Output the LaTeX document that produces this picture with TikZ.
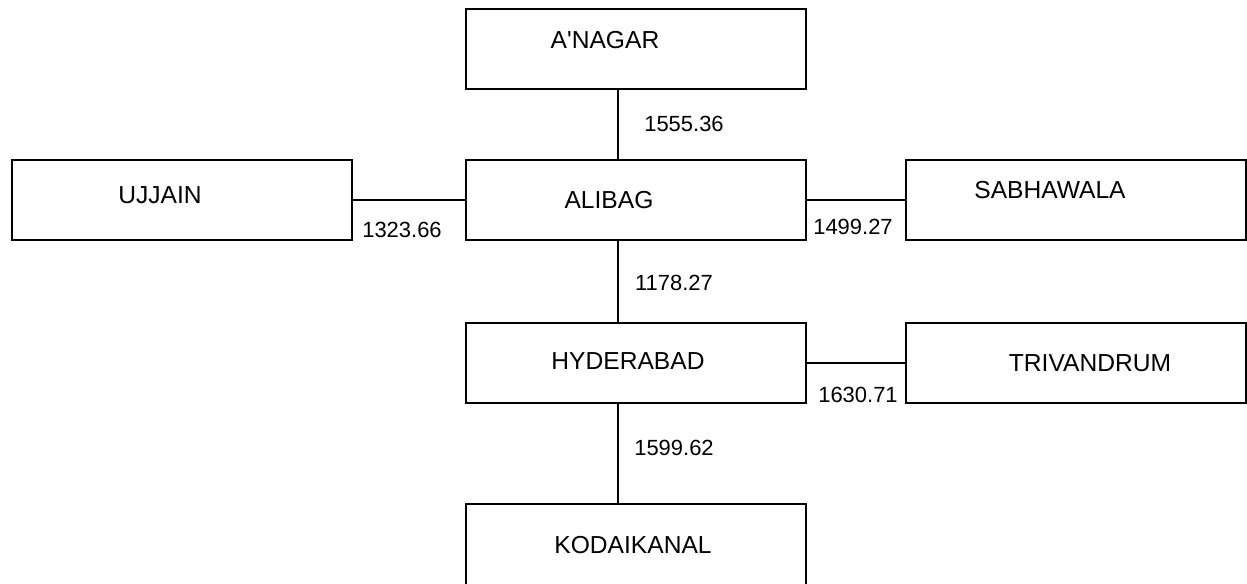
\documentclass[tikz,border=0pt]{standalone}
\usepackage{fontspec}
\setmainfont{Liberation Sans}
\usepackage{tikz}
\usetikzlibrary{positioning, calc}
\tikzset{
    city/.style={draw, rectangle, line width=1pt, minimum width=6.8cm, minimum height=1.6cm, inner sep=0pt},
    cname/.style={inner sep=0pt, font=\fontsize{14}{16}\selectfont},
    dist/.style={inner sep=0pt, font=\fontsize{12.5}{14}\selectfont},
    link/.style={line width=0.8pt}
}

\begin{document}
\begin{tikzpicture}[x=0.02cm, y=-0.02cm]
    \useasboundingbox (0,0) rectangle (1247,584);

    % boxes
    \node[city] (anagar) at (636,49) {};
    \node[city] (alibag) at (636,200) {};
    \node[city] (ujjain) at (182,200) {};
    \node[city] (sabhawala) at (1076,200) {};
    \node[city] (hyderabad) at (636,363) {};
    \node[city] (trivandrum) at (1076,363) {};
    \node[city, minimum height=2cm] (kodaikanal) at (636,554) {};

    % names
    \node[cname] (anagar-t) at (605,40) {A\textquotesingle NAGAR};
    \node[cname] (alibag-t) at (609,200) {ALIBAG};
    \node[cname] (ujjain-t) at (160,195) {UJJAIN};
    \node[cname] (sabhawala-t) at (1050,190) {SABHAWALA};
    \node[cname] (hyderabad-t) at (628,361) {HYDERABAD};
    \node[cname] (trivandrum-t) at (1090,363) {TRIVANDRUM};
    \node[cname] (kodaikanal-t) at (633,545) {KODAIKANAL};

    % connectors
    \coordinate (spine) at (618,0);
    \draw[link] (anagar.south -| spine) -- (alibag.north -| spine);
    \draw[link] (alibag.south -| spine) -- (hyderabad.north -| spine);
    \draw[link] (hyderabad.south -| spine) -- (kodaikanal.north -| spine);
    \draw[link] (ujjain.east) -- (alibag.west);
    \draw[link] (alibag.east) -- (sabhawala.west);
    \draw[link] (hyderabad.east) -- (trivandrum.west);

    % distances
    \node[dist] (d1) at (684,124) {1555.36};
    \node[dist] (d2) at (402,230) {1323.66};
    \node[dist] (d3) at (853,227) {1499.27};
    \node[dist] (d4) at (674,283) {1178.27};
    \node[dist] (d5) at (674,448) {1599.62};
    \node[dist] (d6) at (858,395) {1630.71};
\end{tikzpicture}
\end{document}
